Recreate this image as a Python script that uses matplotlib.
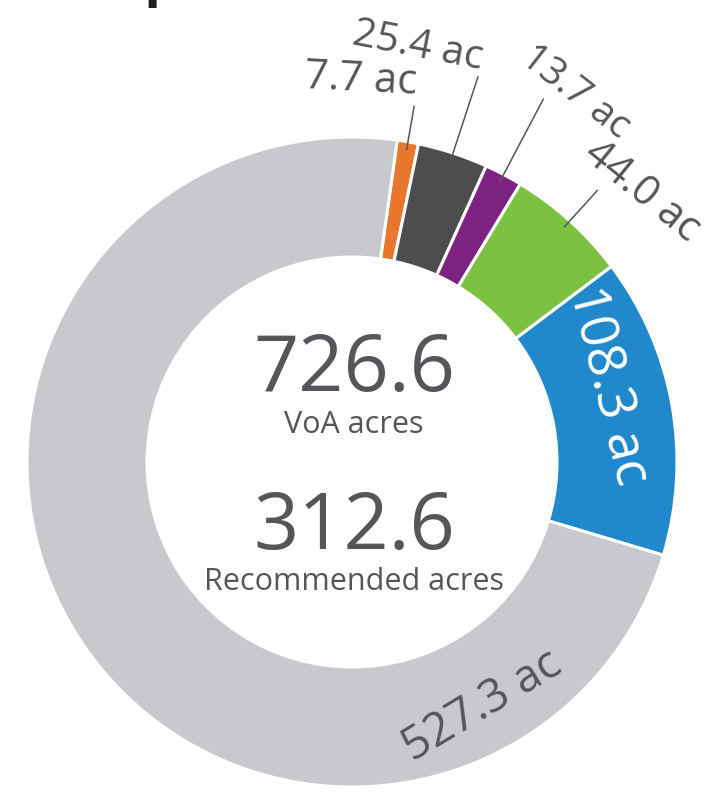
import numpy as np
import matplotlib
matplotlib.use("Agg")
import matplotlib.pyplot as plt

plt.rcParams['font.family'] = ['Open Sans', 'DejaVu Sans']

W, H = 723, 794

# acres per category, clockwise from the top
values = [7.7, 25.4, 13.7, 44.0, 108.3, 527.3]
labels = ["%.1f ac" % v for v in values]
colors = ["#e8772e", "#4d4d4f", "#7e2281", "#7cc142", "#2188cb", "#c8c9cc"]

total_voa = "726.6"
total_rec = "312.6"

# layout (pixels, y measured from the top)
cx, cy = 352, 462
R_out, R_in = 325, 205
TXT = "#555659"


def polar(ang, r):
    # compass angle (deg, clockwise from top) -> figure pixel coords (y up)
    a = np.radians(ang)
    return cx + r * np.sin(a), (H - cy) + r * np.cos(a)


def px(x, y):
    # pixel from top-left -> axes coords
    return x, H - y


fig = plt.figure(figsize=(W / 100, H / 100), dpi=100)
ax = fig.add_axes([0, 0, 1, 1])

wedges, _ = ax.pie(values, colors=colors, startangle=82, counterclock=False,
                   radius=R_out, center=(cx, H - cy),
                   wedgeprops=dict(width=R_out - R_in, edgecolor="white", linewidth=2.2))

ax.set_xlim(0, W)
ax.set_ylim(0, H)
ax.set_aspect("equal")
ax.axis("off")

# label placement: (x, y from top, rotation, size, color)
label_pos = [(361, 80, -3, 30, TXT), (418, 47, -11, 29, TXT), (575, 92, -38, 28, TXT),
             (642, 191, -39, 30, TXT), (607, 386, -76, 38, "white"), (482, 706, 31, 33, TXT)]
line_start = [361, 405, 410, 366]

for i, w in enumerate(wedges):
    x, y, rot, fs, col = label_pos[i]
    ax.text(*px(x, y), labels[i], ha="center", va="center", rotation=rot,
            rotation_mode="anchor", fontsize=fs, color=col)
    if i < len(line_start):
        mid = 90 - (w.theta1 + w.theta2) / 2
        x0, y0 = polar(mid, R_out - 8)
        x1, y1 = polar(mid, line_start[i])
        ax.plot([x0, x1], [y0, y1], color=TXT, lw=1.1)

# totals in the middle
ax.text(*px(cx + 2, 370), total_voa, ha="center", va="center", fontsize=57, color=TXT)
ax.text(*px(cx + 2, 425), "VoA acres", ha="center", va="center", fontsize=22, color=TXT)
ax.text(*px(cx + 2, 528), total_rec, ha="center", va="center", fontsize=57, color=TXT)
ax.text(*px(cx + 2, 582), "Recommended acres", ha="center", va="center", fontsize=22, color=TXT)

# title, cut off at the top of the picture
ax.text(*px(21, -5), "Comparison", ha="left", va="baseline", fontsize=40,
        fontweight="bold", color="#231f20")

fig.savefig("out.png", dpi=100)
